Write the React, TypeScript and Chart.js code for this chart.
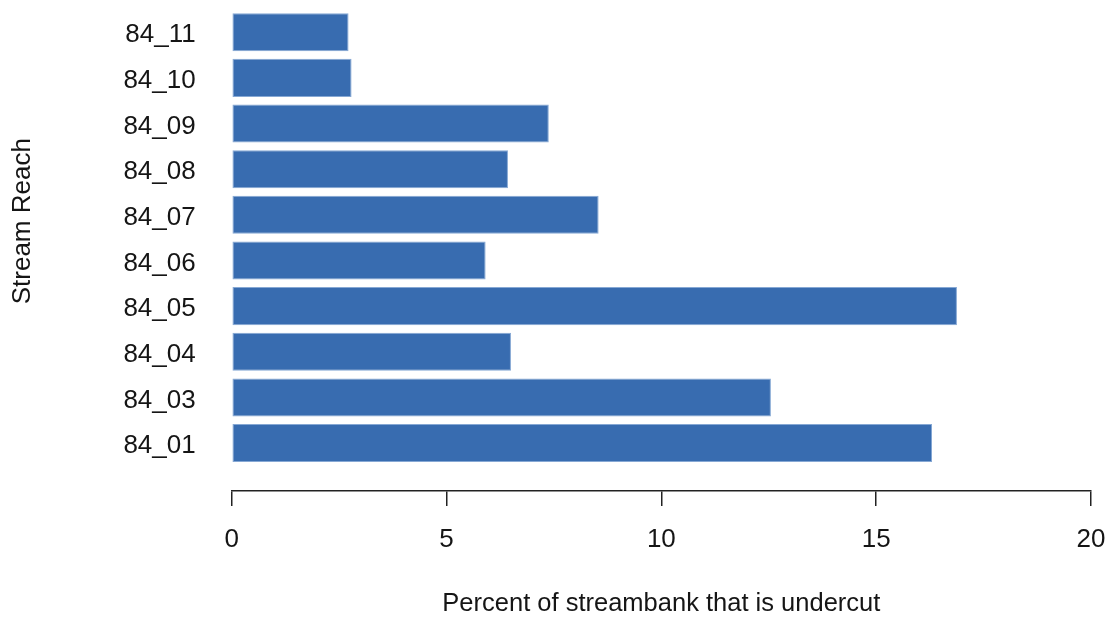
import React, { useEffect, useRef } from "react";
import { Chart, registerables } from "chart.js";

Chart.register(...registerables);

// Data (bottom to top)
const categories = ["84_01", "84_03", "84_04", "84_05", "84_06", "84_07", "84_08", "84_09", "84_10", "84_11"];
const values = [16.3, 12.55, 6.5, 16.88, 5.91, 8.54, 6.43, 7.38, 2.79, 2.72];
const xTicks = [0, 5, 10, 15, 20];
const xTitle = "Percent of streambank that is undercut";
const yTitle = "Stream Reach";

const FONT = "'Liberation Sans', Arial, Helvetica, sans-serif";
const TEXT = "#151515";

export default function App() {
  const ref = useRef<HTMLCanvasElement | null>(null);

  useEffect(() => {
    if (!ref.current) return;
    const yTitlePlugin = {
      id: "yTitlePlugin",
      afterDraw(chart: any) {
        const ctx = chart.ctx;
        const ys = chart.scales.y;
        const cy = ys.getPixelForValue(4.86);
        ctx.save();
        ctx.translate(23, cy);
        ctx.rotate(-Math.PI / 2);
        ctx.fillStyle = TEXT;
        ctx.font = `26px ${FONT}`;
        ctx.textAlign = "center";
        ctx.textBaseline = "middle";
        ctx.fillText(yTitle, 0, 0);
        ctx.restore();
      },
    };
    const chart = new Chart(ref.current, {
      type: "bar",
      data: {
        datasets: [
          {
            data: values.map((v, i) => ({ x: v, y: i })),
            backgroundColor: "#386CB0",
            borderColor: "#86A8D4",
            borderWidth: 1,
            borderSkipped: false,
            barPercentage: 0.833,
            categoryPercentage: 1,
          },
        ],
      },
      options: {
        indexAxis: "y",
        animation: false,
        responsive: false,
        devicePixelRatio: 1,
        layout: { padding: { left: 0, right: 18, top: 9.4, bottom: 0 } },
        plugins: {
          legend: { display: false },
          tooltip: { enabled: false },
        },
        scales: {
          x: {
            type: "linear",
            min: xTicks[0],
            max: xTicks[xTicks.length - 1],
            afterBuildTicks: (s: any) => {
              s.ticks = xTicks.map((v) => ({ value: v }));
            },
            afterFit: (s: any) => {
              s.height = 126;
              s.paddingLeft = 0;
              s.paddingRight = 0;
            },
            grid: {
              display: true,
              drawOnChartArea: false,
              drawTicks: true,
              tickLength: 15,
              color: "#222",
              lineWidth: 1.5,
            },
            border: { display: true, color: "#222", width: 1.5 },
            ticks: {
              padding: 18,
              color: TEXT,
              font: { family: FONT, size: 26, lineHeight: 1.2 },
              maxRotation: 0,
            },
            title: {
              display: true,
              text: xTitle,
              color: TEXT,
              font: { family: FONT, size: 25.5, lineHeight: 1 },
              padding: { top: 0, bottom: 0 },
            },
          },
          y: {
            type: "linear",
            offset: false,
            min: -1.05,
            max: 9.5,
            afterBuildTicks: (s: any) => {
              s.ticks = categories.map((_, i) => ({ value: i }));
            },
            afterFit: (s: any) => {
              s.width = 231.7;
              s.paddingTop = 0;
              s.paddingBottom = 0;
            },
            grid: { display: false, drawTicks: false, offset: false },
            border: { display: false },
            ticks: {
              autoSkip: false,
              padding: 36,
              labelOffset: 3,
              color: TEXT,
              font: { family: FONT, size: 26 },
              callback: (v: any) => categories[Math.round(Number(v))] ?? "",
            },
          },
        },
      },
      plugins: [yTitlePlugin],
    } as any);
    return () => chart.destroy();
  }, []);

  return (
    <div style={{ position: "fixed", left: 0, top: 0, width: 1109, height: 617, background: "#fff" }}>
      <canvas ref={ref} width={1109} height={617} />
    </div>
  );
}
